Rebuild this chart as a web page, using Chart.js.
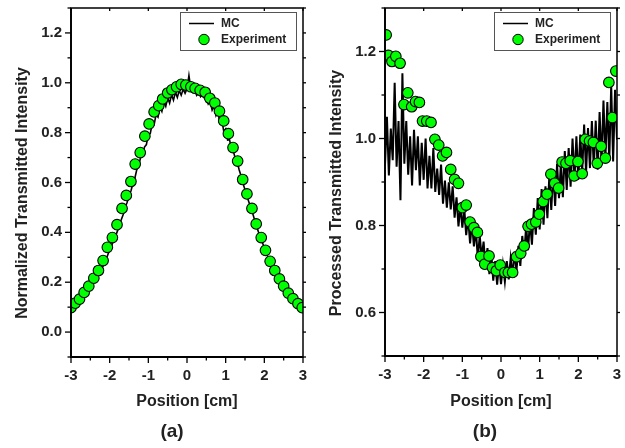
<!DOCTYPE html>
<html>
<head>
<meta charset="utf-8">
<script src="https://cdn.jsdelivr.net/npm/chart.js@4.4.0/dist/chart.umd.min.js"></script>
<style>
  body { margin: 0; background: #fff; width: 625px; height: 448px; overflow: hidden; position: relative; }
  #ca { position: absolute; left: 0; top: 0; }
  #cb { position: absolute; left: 312px; top: 0; }
</style>
</head>
<body>
<canvas id="ca" width="312" height="448"></canvas>
<canvas id="cb" width="313" height="448"></canvas>
<script>
// sampling positions of the simulated (MC) curves, cm
var mcPos = [-3,-2.95,-2.9,-2.85,-2.8,-2.75,-2.7,-2.65,-2.6,-2.55,-2.5,-2.45,-2.4,-2.35,-2.3,-2.25,-2.2,-2.15,-2.1,-2.05,
  -2,-1.95,-1.9,-1.85,-1.8,-1.75,-1.7,-1.65,-1.6,-1.55,-1.5,-1.45,-1.4,-1.35,-1.3,-1.25,-1.2,-1.15,-1.1,-1.05,
  -1,-0.95,-0.9,-0.85,-0.8,-0.75,-0.7,-0.65,-0.6,-0.55,-0.5,-0.45,-0.4,-0.35,-0.3,-0.25,-0.2,-0.15,-0.1,-0.05,
  0,0.05,0.1,0.15,0.2,0.25,0.3,0.35,0.4,0.45,0.5,0.55,0.6,0.65,0.7,0.75,0.8,0.85,0.9,0.95,
  1,1.05,1.1,1.15,1.2,1.25,1.3,1.35,1.4,1.45,1.5,1.55,1.6,1.65,1.7,1.75,1.8,1.85,1.9,1.95,
  2,2.05,2.1,2.15,2.2,2.25,2.3,2.35,2.4,2.45,2.5,2.55,2.6,2.65,2.7,2.75,2.8,2.85,2.9,2.95,3];

// panel (a)
var mcA = [0.090,0.095,0.103,0.110,0.118,0.126,0.135,0.145,0.156,0.166,0.178,0.190,0.203,0.216,0.229,0.242,0.256,0.271,0.287,0.309,
  0.330,0.347,0.367,0.384,0.405,0.425,0.451,0.472,0.500,0.520,0.548,0.566,0.595,0.616,0.651,0.668,0.700,0.705,0.742,0.752,
  0.795,0.796,0.835,0.832,0.872,0.862,0.902,0.885,0.922,0.905,0.940,0.918,0.952,0.930,0.962,0.941,0.969,0.950,0.974,0.958,
  0.976,1.030,0.975,0.962,0.969,0.950,0.962,0.944,0.954,0.938,0.945,0.915,0.925,0.890,0.905,0.868,0.882,0.840,0.852,0.805,
  0.815,0.770,0.772,0.735,0.725,0.695,0.680,0.650,0.626,0.596,0.571,0.545,0.522,0.499,0.476,0.449,0.423,0.401,0.381,0.359,
  0.337,0.317,0.298,0.282,0.266,0.251,0.237,0.222,0.208,0.195,0.182,0.170,0.159,0.149,0.139,0.131,0.123,0.116,0.109,0.103,0.097];
var expAPos = [-3.00,-2.89,-2.78,-2.66,-2.54,-2.41,-2.29,-2.17,-2.06,-1.93,-1.81,-1.68,-1.57,-1.45,-1.34,-1.21,-1.09,-0.98,-0.85,-0.73,
  -0.63,-0.50,-0.39,-0.27,-0.15,-0.03,0.10,0.21,0.34,0.47,0.59,0.72,0.84,0.95,1.07,1.19,1.31,1.44,1.55,1.68,
  1.79,1.92,2.03,2.15,2.27,2.39,2.50,2.62,2.74,2.87,2.98];
var expAVal = [0.098,0.116,0.132,0.159,0.184,0.216,0.247,0.287,0.340,0.379,0.431,0.496,0.548,0.604,0.674,0.720,0.786,0.835,0.883,0.908,
  0.935,0.959,0.972,0.984,0.994,0.991,0.984,0.978,0.970,0.962,0.938,0.919,0.886,0.847,0.796,0.740,0.686,0.612,0.554,0.496,
  0.434,0.379,0.328,0.284,0.247,0.213,0.184,0.156,0.134,0.114,0.098];

// panel (b)
var mcB = [0.940,1.050,0.915,1.023,0.950,1.128,0.935,1.040,0.858,1.150,0.942,1.040,0.917,1.005,0.892,1.020,0.927,1.005,0.892,0.990,
  0.905,1.000,0.885,0.960,0.885,0.978,0.877,0.931,0.870,0.940,0.850,0.903,0.841,0.899,0.837,0.890,0.818,0.865,0.798,0.846,
  0.795,0.839,0.778,0.820,0.759,0.806,0.752,0.791,0.725,0.776,0.727,0.763,0.703,0.748,0.688,0.732,0.673,0.718,0.664,0.713,
  0.665,0.710,0.671,0.718,0.676,0.725,0.685,0.740,0.695,0.753,0.707,0.776,0.730,0.799,0.743,0.812,0.756,0.840,0.779,0.863,
  0.791,0.884,0.802,0.890,0.817,0.914,0.836,0.923,0.845,0.942,0.863,0.944,0.865,0.971,0.882,0.978,0.889,1.000,0.905,1.005,
  0.905,1.009,0.923,1.032,0.921,1.024,0.932,1.040,0.933,1.041,0.928,1.061,0.944,1.087,0.955,1.084,0.948,1.122,0.947,1.112,0.997];
var expBPos = [-2.97,-2.91,-2.82,-2.72,-2.61,-2.51,-2.41,-2.31,-2.21,-2.11,-2.03,-1.92,-1.81,-1.71,-1.61,-1.51,-1.41,-1.30,-1.20,-1.10,
  -1.00,-0.90,-0.80,-0.70,-0.61,-0.52,-0.42,-0.31,-0.22,-0.12,-0.02,0.10,0.19,0.30,0.40,0.51,0.60,0.70,0.79,0.90,
  0.99,1.09,1.19,1.29,1.39,1.49,1.58,1.68,1.79,1.89,1.99,2.10,2.18,2.29,2.39,2.49,2.59,2.70,2.79,2.88,2.97];
var expBVal = [1.238,1.191,1.177,1.189,1.173,1.078,1.105,1.073,1.085,1.083,1.040,1.040,1.037,0.998,0.985,0.960,0.968,0.929,0.906,0.897,
  0.841,0.847,0.808,0.795,0.784,0.729,0.711,0.730,0.703,0.696,0.709,0.692,0.692,0.692,0.728,0.736,0.753,0.798,0.803,0.808,
  0.826,0.855,0.872,0.918,0.897,0.886,0.946,0.943,0.949,0.914,0.947,0.919,0.998,0.994,0.991,0.943,0.982,0.955,1.129,1.048,1.155];

// ticks
var xTicks = [-3, -2, -1, 0, 1, 2, 3];
var xMinor = [-2.5, -1.5, -0.5, 0.5, 1.5, 2.5];
var yTicksA = [0.0, 0.2, 0.4, 0.6, 0.8, 1.0, 1.2];
var yMinorA = [-0.1, 0.1, 0.3, 0.5, 0.7, 0.9, 1.1, 1.3];
var yTicksB = [0.6, 0.8, 1.0, 1.2];
var yMinorB = [0.5, 0.7, 0.9, 1.1, 1.3];

var FONT = '"Liberation Sans", Arial, sans-serif';
var INK = '#222';
Chart.defaults.font.family = FONT;
Chart.defaults.color = INK;

function pts(xs, ys) {
  return xs.map(function (v, i) { return { x: v, y: ys[i] }; });
}

// frame, tick marks, y title, boxed legend and panel caption
var frame = {
  id: 'frame',
  afterDatasetsDraw: function (chart, args, o) {
    var ctx = chart.ctx, a = chart.chartArea, sx = chart.scales.x, sy = chart.scales.y;
    function seg(x1, y1, x2, y2) { ctx.beginPath(); ctx.moveTo(x1, y1); ctx.lineTo(x2, y2); ctx.stroke(); }
    ctx.save();
    ctx.strokeStyle = '#000';
    ctx.lineWidth = 1.5;
    ctx.strokeRect(a.left, a.top, a.right - a.left, a.bottom - a.top);
    ctx.lineWidth = 1.8;
    seg(a.left, a.top, a.left, a.bottom + 1);
    seg(a.left - 1, a.bottom, a.right, a.bottom);
    ctx.lineWidth = 1.3;
    xTicks.forEach(function (v) { var p = sx.getPixelForValue(v); seg(p, a.bottom, p, a.bottom + 6); seg(p, a.top, p, a.top + 3); });
    xMinor.forEach(function (v) { var p = sx.getPixelForValue(v); seg(p, a.bottom, p, a.bottom + 3.5); });
    o.major.forEach(function (v) { var p = sy.getPixelForValue(v); seg(a.left - 6, p, a.left, p); seg(a.right, p, a.right + 3, p); });
    o.minor.forEach(function (v) { var p = sy.getPixelForValue(v); seg(a.left - 3.5, p, a.left, p); seg(a.right, p, a.right + 3, p); });

    // y axis title
    ctx.fillStyle = INK;
    ctx.font = 'bold 16px ' + FONT;
    ctx.textAlign = 'center';
    ctx.textBaseline = 'middle';
    ctx.save();
    ctx.translate(o.titleX, 193);
    ctx.rotate(-Math.PI / 2);
    ctx.fillText(o.title, 0, 0);
    ctx.restore();

    // legend box
    var bx = a.right - 123, by = a.top + 4, bw = 116, bh = 38;
    ctx.fillStyle = '#fff';
    ctx.fillRect(bx, by, bw, bh);
    ctx.strokeStyle = '#555';
    ctx.lineWidth = 1;
    ctx.strokeRect(bx + 0.5, by + 0.5, bw, bh);
    var ds = chart.data.datasets;
    ctx.strokeStyle = ds[1].borderColor;
    ctx.lineWidth = 1.5;
    seg(bx + 9, by + 11.5, bx + 34, by + 11.5);
    ctx.beginPath();
    ctx.arc(bx + 24, by + 27.5, 5.2, 0, Math.PI * 2);
    ctx.fillStyle = ds[0].backgroundColor;
    ctx.fill();
    ctx.strokeStyle = ds[0].borderColor;
    ctx.lineWidth = 1;
    ctx.stroke();
    ctx.fillStyle = INK;
    ctx.font = 'bold 12px ' + FONT;
    ctx.textAlign = 'left';
    ctx.fillText(ds[1].label, bx + 41, by + 12);
    ctx.fillText(ds[0].label, bx + 41, by + 28);

    // caption
    ctx.font = 'bold 19px ' + FONT;
    ctx.textAlign = 'center';
    ctx.fillText(o.caption, o.capX, 432);
    ctx.restore();
  }
};

function makeChart(id, cfg) {
  return new Chart(document.getElementById(id), {
    type: 'scatter',
    data: {
      datasets: [
        { label: 'Experiment', data: cfg.exp, showLine: false, pointRadius: 5.3, pointHoverRadius: 5.3,
          backgroundColor: '#00ff00', borderColor: '#000', borderWidth: 1.1, order: 1 },
        { label: 'MC', data: cfg.mc, showLine: true, pointRadius: 0, borderColor: '#000',
          borderWidth: cfg.lineW, tension: 0, order: 2 }
      ]
    },
    options: {
      responsive: false,
      animation: false,
      layout: { padding: { left: cfg.padLeft, right: cfg.padRight, top: 8, bottom: 33 } },
      plugins: {
        legend: { display: false },
        tooltip: { enabled: false },
        frame: { major: cfg.yTicks, minor: cfg.yMinor, caption: cfg.caption, capX: cfg.capX,
                 title: cfg.yTitle, titleX: cfg.titleX }
      },
      scales: {
        x: {
          type: 'linear', min: -3, max: 3,
          afterBuildTicks: function (s) { s.ticks = xTicks.map(function (v) { return { value: v }; }); },
          afterFit: function (s) { s.height = cfg.xHeight; s.paddingLeft = 0; s.paddingRight = 0; },
          grid: { display: false, drawTicks: false },
          border: { display: false },
          ticks: { padding: 10, maxRotation: 0, font: { size: 15, weight: 'bold' }, color: INK,
                   callback: function (v) { return String(v); } },
          title: { display: true, text: 'Position [cm]', color: INK, font: { size: 16, weight: 'bold' } }
        },
        y: {
          min: cfg.yMin, max: cfg.yMax,
          afterBuildTicks: function (s) { s.ticks = cfg.yTicks.map(function (v) { return { value: v }; }); },
          afterFit: function (s) { s.width = cfg.yWidth; s.paddingTop = 0; s.paddingBottom = 0; },
          grid: { display: false, drawTicks: false },
          border: { display: false },
          ticks: { padding: 9, font: { size: 15, weight: 'bold' }, color: INK,
                   callback: function (v) { return v.toFixed(1); } }
        }
      }
    },
    plugins: [frame]
  });
}

makeChart('ca', {
  exp: pts(expAPos, expAVal), mc: pts(mcPos, mcA), lineW: 1.6,
  yMin: -0.1, yMax: 1.3, yTicks: yTicksA, yMinor: yMinorA,
  yTitle: 'Normalized Transmitted Intensity', titleX: 23,
  padLeft: 0, padRight: 9, yWidth: 71, xHeight: 58,
  caption: '(a)', capX: 172
});

makeChart('cb', {
  exp: pts(expBPos, expBVal), mc: pts(mcPos, mcB), lineW: 2,
  yMin: 0.5, yMax: 1.3, yTicks: yTicksB, yMinor: yMinorB,
  yTitle: 'Processed Transmitted Intensity', titleX: 25,
  padLeft: 0, padRight: 8, yWidth: 73, xHeight: 59,
  caption: '(b)', capX: 173
});
</script>
</body>
</html>
